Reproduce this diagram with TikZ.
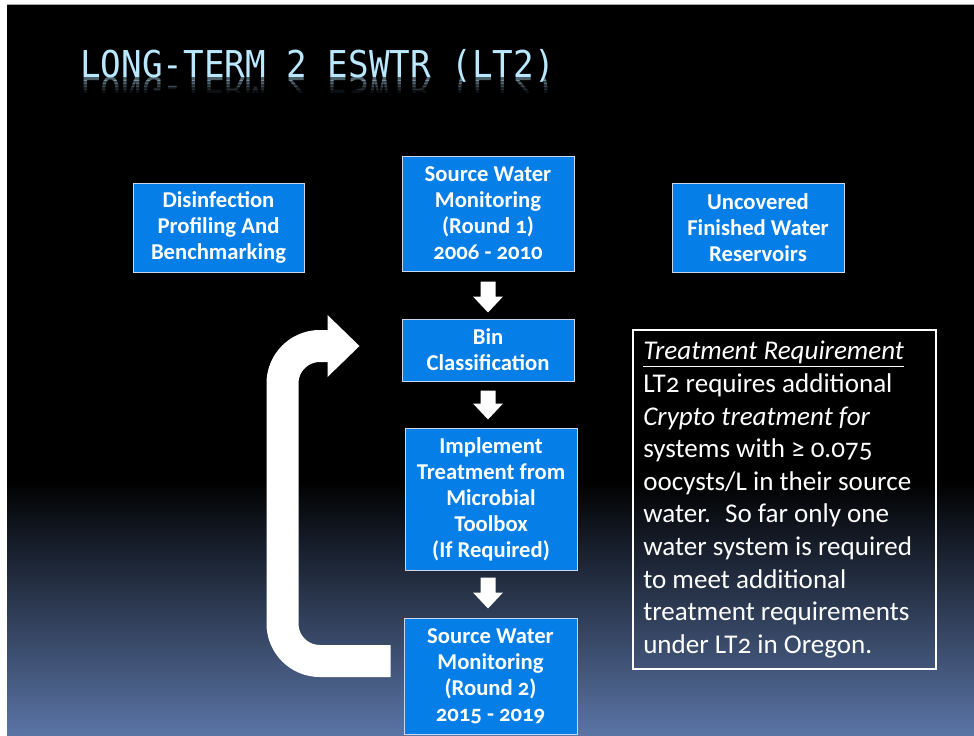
\documentclass[tikz,border=0pt]{standalone}
\usepackage{fontspec}
\setmainfont{Carlito}[Numbers=OldStyle]
\newfontfamily\titlefont{DejaVu Sans Mono}
\usetikzlibrary{fit,calc}
\definecolor{boxblue}{RGB}{5,126,232}
\definecolor{boxedge}{RGB}{200,215,235}
\definecolor{titleblue}{RGB}{185,232,255}
\definecolor{slidebot}{RGB}{90,116,165}
\newcommand\blockarrow[2]{%
  \fill[white] ($(#1)+(-7.5,0)$) -- ($(#2)+(-7.5,-16)$) -- ($(#2)+(-15,-16)$) -- (#2)
    -- ($(#2)+(15,-16)$) -- ($(#2)+(7.5,-16)$) -- ($(#1)+(7.5,0)$) -- cycle;}
\newcommand\titlestr{\scalebox{1}[1.08]{LONG-TERM 2 ESWTR (LT2)}}
\begin{document}
\begin{tikzpicture}[x=0.75pt,y=-0.75pt,
  fbox/.style={draw=boxedge, line width=0.75pt, fill=boxblue, inner sep=0pt},
  boxtext/.style={text=white, inner sep=0pt, align=center,
    font=\bfseries\fontsize{17}{19.5}\selectfont},
  uturn/.style={draw=white, line width=24pt, rounded corners=28pt},
  titletext/.style={anchor=base west, inner sep=0pt, text=titleblue,
    font=\titlefont\fontsize{25.7}{30}\selectfont},
]
\useasboundingbox (0,0) rectangle (974,735);
\fill[white] (0,0) rectangle (974,735);
\fill[black] (7,5) rectangle (974,482);
\shade[top color=black, bottom color=slidebot] (7,480) rectangle (974,735);
\draw[gray!70, line width=0.75pt] (7,5) -- (974,5);

% title with reflection
\node[titletext] (title) at (80,78) {\titlestr};
\foreach \i/\o in {0/0.42,1/0.32,2/0.22,3/0.14,4/0.07}{
  \begin{scope}
    \clip (70,{78+3*\i}) rectangle (600,{81+3*\i});
    \begin{scope}[shift={(80,78)}, yscale=-1]
      \node[titletext, transform shape, opacity=\o] (refl\i) at (0,0) {\titlestr};
    \end{scope}
  \end{scope}
}

% boxes
\node[fbox, fit={(133,183) (304,272)}] (dp) {};
\node[boxtext] (dpt) at (dp.center) {Disinfection\\Profiling And\\Benchmarking};
\node[fbox, fit={(672,183) (844,272)}] (uf) {};
\node[boxtext] (uft) at (uf.center) {Uncovered\\Finished Water\\Reservoirs};
\node[fbox, fit={(402,156) (574,271)}] (s1) {};
\node[boxtext] (s1t) at (s1.center) {Source Water\\Monitoring\\(Round 1)\\2006 - 2010};
\node[fbox, fit={(402,319) (574,381)}] (bin) {};
\node[boxtext] (bint) at (bin.center) {Bin\\Classification};
\node[fbox, fit={(405,428) (577,570)}] (imp) {};
\node[boxtext] (impt) at (imp.center) {Implement\\Treatment from\\Microbial\\Toolbox\\(If Required)};
\node[fbox, fit={(404,618) (577,734)}] (s2) {};
\node[boxtext] (s2t) at (s2.center) {Source Water\\Monitoring\\(Round 2)\\2015 - 2019};

% down arrows
\coordinate (a1s) at ([shift={(0,10)}]s1.south);
\coordinate (a1e) at ([shift={(0,-6)}]bin.north -| s1.south);
\blockarrow{a1s}{a1e}
\coordinate (a2s) at ([shift={(0,9)}]bin.south);
\coordinate (a2e) at ([shift={(0,-8)}]imp.north -| bin.south);
\blockarrow{a2s}{a2e}
\coordinate (a3s) at ([shift={(-3,7)}]imp.south);
\coordinate (a3e) at ([shift={(0,-9)}]s2.north -| a3s);
\blockarrow{a3s}{a3e}

% U-turn arrow
\coordinate (us) at ([shift={(-13,-15)}]s2.west);
\coordinate (ut) at ([shift={(-42,-4)}]bin.west);
\draw[uturn] (us) -- ++(-108,0) |- ($(ut)+(-30,0)$);
\fill[white] ($(ut)+(-32,-31)$) -- (ut) -- ($(ut)+(-32,31)$) -- cycle;

% note box
\node[draw=white, line width=0.9pt, inner sep=0pt, fit={(633,330) (936,669)}] (note) {};
\node[anchor=north west, inner sep=0pt, text=white, align=left,
  font=\fontsize{20.3}{24.45}\selectfont] (notetext) at (643,341)
  {\underline{\textit{Treatment Requirement}}\\
   LT2 requires additional\\
   \textit{Crypto treatment for}\\
   systems with ≥ 0.075\\
   oocysts/L in their source\\
   water.~ So far only one\\
   water system is required\\
   to meet additional\\
   treatment requirements\\
   under LT2 in Oregon.};
\end{tikzpicture}
\end{document}
